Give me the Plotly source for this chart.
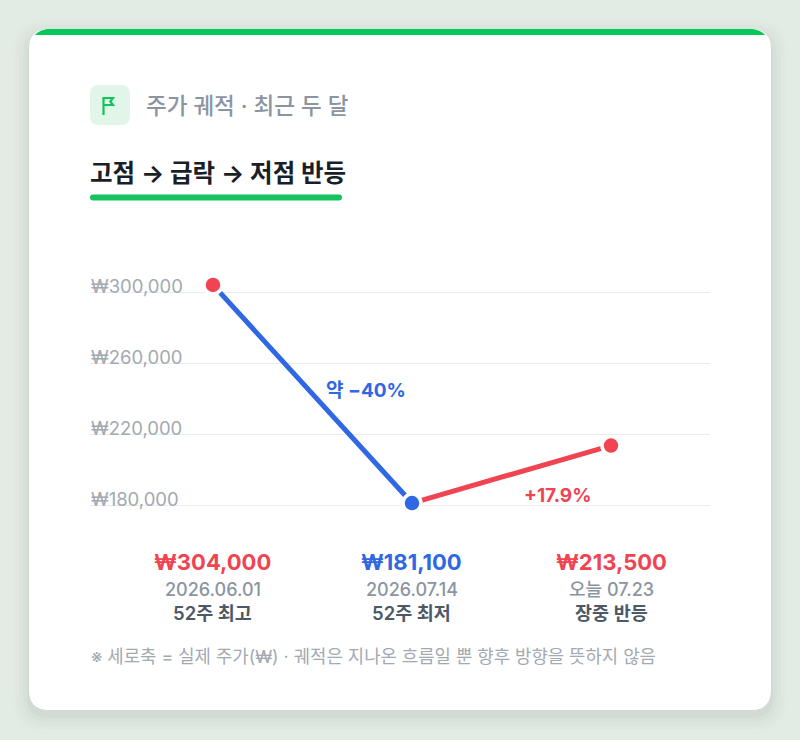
import math
import plotly.graph_objects as go

# data
points = ["2026.06.01", "2026.07.14", "오늘 07.23"]
prices = [304000, 181100, 213500]
point_labels = ["52주 최고", "52주 최저", "장중 반등"]
point_colors = ["#f04452", "#3067e3", "#f04452"]
change_labels = ["약 −40%", "+17.9%"]
y_ticks = [180000, 220000, 260000, 300000]

RED = "#f04452"
BLUE = "#3067e3"
GREEN = "#07c65a"
FONT = "Inter, Noto Sans CJK KR, sans-serif"

W, H = 800, 740


def X(x):
    return x / W


def Y(y):
    return 1 - y / H


def pt(x, y):
    return f"{X(x):.5f},{Y(y):.5f}"


def rrect(x0, y0, x1, y1, r):
    # rounded rectangle, given in pixels, written in paper coords
    return (f"M{pt(x0+r, y0)} L{pt(x1-r, y0)} Q{pt(x1, y0)} {pt(x1, y0+r)} "
            f"L{pt(x1, y1-r)} Q{pt(x1, y1)} {pt(x1-r, y1)} L{pt(x0+r, y1)} "
            f"Q{pt(x0, y1)} {pt(x0, y1-r)} L{pt(x0, y0+r)} Q{pt(x0, y0)} {pt(x0+r, y0)} Z")


def top_band(x0, x1, y0, h, r):
    # green strip clipped by the card's rounded top corners
    cx_l, cx_r, cy = x0 + r, x1 - r, y0 + r
    a_end = math.asin((cy - (y0 + h)) / r)
    pts = []
    n = 8
    for i in range(n + 1):
        a = a_end + (math.pi / 2 - a_end) * i / n
        pts.append((cx_l - r * math.cos(a), cy - r * math.sin(a)))
    for i in range(n + 1):
        a = math.pi / 2 - (math.pi / 2 - a_end) * i / n
        pts.append((cx_r + r * math.cos(a), cy - r * math.sin(a)))
    return "M" + " L".join(pt(x, y) for x, y in pts) + " Z"


fig = go.Figure()

# two coloured legs
fig.add_trace(go.Scatter(x=[0, 1], y=prices[0:2], mode="lines",
                         line=dict(color=BLUE, width=5), hoverinfo="skip"))
fig.add_trace(go.Scatter(x=[1, 2], y=prices[1:3], mode="lines",
                         line=dict(color=RED, width=5), hoverinfo="skip"))
fig.add_trace(go.Scatter(
    x=list(range(len(prices))), y=prices, mode="markers",
    marker=dict(size=18, color=point_colors, line=dict(color="white", width=3.5)),
    hovertext=points, hoverinfo="text+y"))

shapes = []
# card shadow
for i, a in enumerate([0.03, 0.022, 0.016, 0.012, 0.008]):
    g = 2 + i * 4
    shapes.append(dict(type="path", xref="paper", yref="paper", layer="below",
                       path=rrect(29 - g, 29 - g + 6, 771 + g, 710 + g + 6, 20 + g),
                       fillcolor=f"rgba(40,70,50,{a})", line=dict(width=0)))
shapes.append(dict(type="path", xref="paper", yref="paper", layer="below",
                   path=rrect(29, 29, 771, 710, 20),
                   fillcolor="white", line=dict(width=0)))
shapes.append(dict(type="path", xref="paper", yref="paper", layer="below",
                   path=top_band(29, 771, 29, 6, 20),
                   fillcolor=GREEN, line=dict(width=0)))
# icon
shapes.append(dict(type="path", xref="paper", yref="paper", layer="below",
                   path=rrect(90, 85, 130, 125, 9),
                   fillcolor="#e2f5e9", line=dict(width=0)))
shapes.append(dict(type="path", xref="paper", yref="paper", layer="above",
                   path="M" + " L".join(pt(x, y) for x, y in
                                        [(103.5, 115), (103.5, 98), (113, 98), (110.3, 101.5),
                                         (113, 105), (103.5, 105)]),
                   line=dict(color="#13c45e", width=2.2)))
# title underline
shapes.append(dict(type="path", xref="paper", yref="paper", layer="below",
                   path=rrect(90, 194.5, 342, 200.5, 3),
                   fillcolor="#14c35e", line=dict(width=0)))

annotations = [
    dict(x=X(144), y=Y(105), xref="paper", yref="paper", text="주가 궤적 · 최근 두 달",
         xanchor="left", yanchor="middle", showarrow=False,
         font=dict(size=22.5, color="#8b95a1", family=FONT, weight=500)),
    dict(x=X(88), y=Y(173), xref="paper", yref="paper", text="고점 → 급락 → 저점 반등",
         xanchor="left", yanchor="middle", showarrow=False,
         font=dict(size=24.5, color="#191f28", family=FONT, weight=700)),
    dict(x=X(89), y=Y(656), xref="paper", yref="paper",
         text="※ 세로축 = 실제 주가(₩) · 궤적은 지나온 흐름일 뿐 향후 방향을 뜻하지 않음",
         xanchor="left", yanchor="middle", showarrow=False,
         font=dict(size=17.8, color="#a3a9b1", family=FONT)),
]

# percentage change labels next to each leg
shifts = [(54, 3), (47, -21)]
for i, txt in enumerate(change_labels):
    annotations.append(dict(
        x=i + 0.5, y=(prices[i] + prices[i + 1]) / 2, xref="x", yref="y",
        text=txt, showarrow=False, xshift=shifts[i][0], yshift=shifts[i][1],
        font=dict(size=19, color=[BLUE, RED][i], family=FONT, weight=700)))

# captions under each point
for i in range(len(prices)):
    annotations.append(dict(x=i, y=Y(562), xref="x", yref="paper", text=f"₩{prices[i]:,}",
                            showarrow=False, yanchor="middle",
                            font=dict(size=22, color=point_colors[i], family=FONT, weight=700)))
    annotations.append(dict(x=i, y=Y(589), xref="x", yref="paper", text=points[i],
                            showarrow=False, yanchor="middle",
                            font=dict(size=18, color="#8b95a1", family=FONT, weight=500)))
    annotations.append(dict(x=i, y=Y(613), xref="x", yref="paper", text=point_labels[i],
                            showarrow=False, yanchor="middle",
                            font=dict(size=18.5, color="#4e5968", family=FONT, weight=600)))

fig.update_layout(
    width=W, height=H,
    margin=dict(l=0, r=0, t=0, b=0),
    paper_bgcolor="#e3ebe5",
    plot_bgcolor="rgba(0,0,0,0)",
    showlegend=False,
    font=dict(family=FONT),
    xaxis=dict(domain=[X(90), X(710)], range=[-0.618, 2.4975],
               showgrid=False, zeroline=False, showticklabels=False, fixedrange=True),
    yaxis=dict(domain=[Y(520), Y(260)], range=[171549, 318028],
               tickvals=y_ticks, ticktext=[f"₩{v:,}" for v in y_ticks],
               ticklabelposition="inside top", ticks="",
               ticklabelshift=7, ticklabelstandoff=-2,
               tickfont=dict(size=18.5, color="#a3a9b1", family=FONT),
               showgrid=True, gridcolor="#e9edf0", gridwidth=1,
               zeroline=False, showline=False, fixedrange=True),
    shapes=shapes,
    annotations=annotations,
)

fig.write_html("out.html", config={"displayModeBar": False},
               post_script="document.body.style.margin='0';")
